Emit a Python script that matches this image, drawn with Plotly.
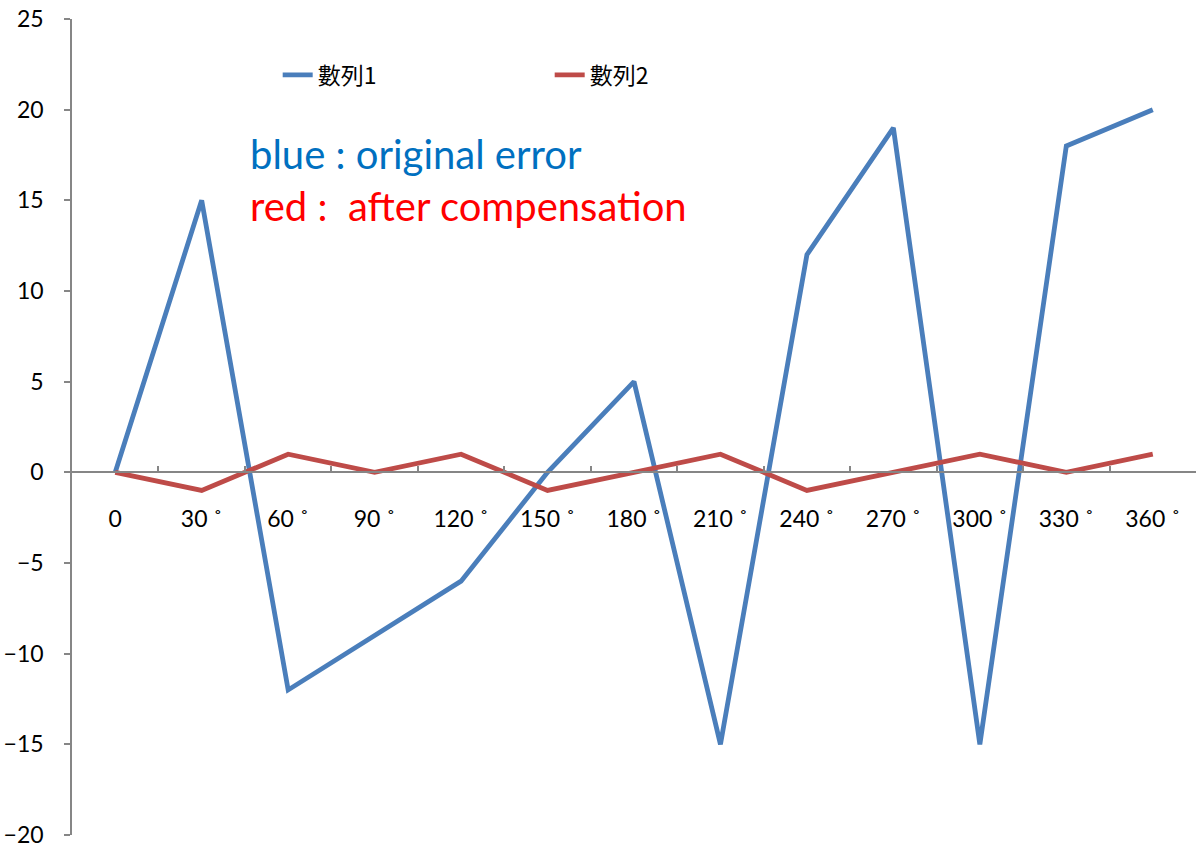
import plotly.graph_objects as go

categories = ["0", "30 ˚", "60 ˚", "90 ˚", "120 ˚", "150 ˚", "180 ˚", "210 ˚",
              "240 ˚", "270 ˚", "300 ˚", "330 ˚", "360 ˚"]
series1 = [0, 15, -12, -9, -6, 0, 5, -15, 12, 19, -15, 18, 20]
series2 = [0, -1, 1, 0, 1, -1, 0, 1, -1, 0, 1, 0, 1]
series_names = ["數列1", "數列2"]
y_ticks = [-20, -15, -10, -5, 0, 5, 10, 15, 20, 25]

font_main = "Lato, 'Noto Sans CJK TC', sans-serif"

fig = go.Figure()
fig.add_trace(go.Scatter(x=categories, y=series1, mode="lines", name=series_names[0],
                         line=dict(color="#4A7EBB", width=4.8)))
fig.add_trace(go.Scatter(x=categories, y=series2, mode="lines", name=series_names[1],
                         line=dict(color="#BE4B48", width=4.8)))

fig.update_layout(
    width=1203, height=850,
    margin=dict(l=72, r=7, t=19, b=15, autoexpand=False),
    paper_bgcolor="white", plot_bgcolor="white",
    font=dict(family=font_main, size=23, color="black"),
    showlegend=True,
    legend=dict(orientation="h", x=0.183, y=(835-75)/816, xanchor="left", yanchor="middle",
                entrywidth=227, entrywidthmode="pixels",
                font=dict(family="'Noto Sans CJK TC', Lato, sans-serif", size=23),
                bgcolor="rgba(0,0,0,0)"),
    xaxis=dict(type="category", categoryorder="array", categoryarray=categories,
               range=[-0.5, 12.5], tickson="boundaries",
               anchor="free", position=20/45, automargin=False,
               showline=True, linecolor="#868686", linewidth=1.5,
               ticks="inside", ticklen=6, tickcolor="#868686", tickwidth=1.5,
               showgrid=False, zeroline=False, ticklabelstandoff=26,
               tickfont=dict(size=23)),
    yaxis=dict(range=[-20, 25], tickvals=y_ticks, showgrid=False, zeroline=False,
               automargin=False,
               showline=True, linecolor="#868686", linewidth=1.5,
               ticks="outside", ticklen=6, tickcolor="#868686", tickwidth=1.5,
               ticklabelstandoff=16, tickfont=dict(size=23)),
    annotations=[
        dict(text="blue : original error", xref="paper", yref="paper",
             x=(248-72)/1124, y=(835-154)/816, xanchor="left", yanchor="middle",
             showarrow=False, font=dict(size=40, color="#0070C0", family=font_main)),
        dict(text="red :  after compensation", xref="paper", yref="paper",
             x=(248-72)/1124, y=(835-206)/816, xanchor="left", yanchor="middle",
             showarrow=False, font=dict(size=40, color="#FF0000", family=font_main)),
    ],
)

fig.write_html("out.html")
